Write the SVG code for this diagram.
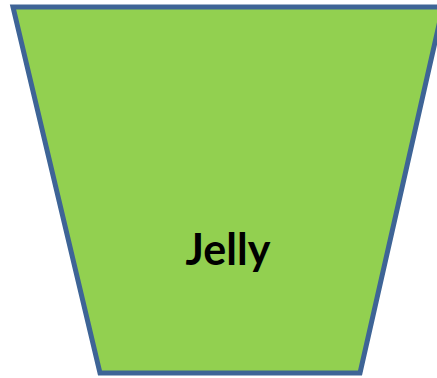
<svg xmlns="http://www.w3.org/2000/svg" width="437" height="378" viewBox="0 0 437 378">
<style>
.shape{fill:#92D050;stroke:#3E6496;stroke-width:5;stroke-linejoin:miter}
.lbl{font-family:Lato,"Liberation Sans",Arial,sans-serif;font-weight:bold;font-size:43px;fill:#000;text-anchor:middle}
</style>
<rect width="437" height="378" fill="#fff"/>
<g id="jelly">
<polygon class="shape" points="13,7 443,7 360,373 100,373"/>
<text class="lbl" x="228" y="265">Jelly</text>
</g>
<g id="connectors"/>
</svg>
